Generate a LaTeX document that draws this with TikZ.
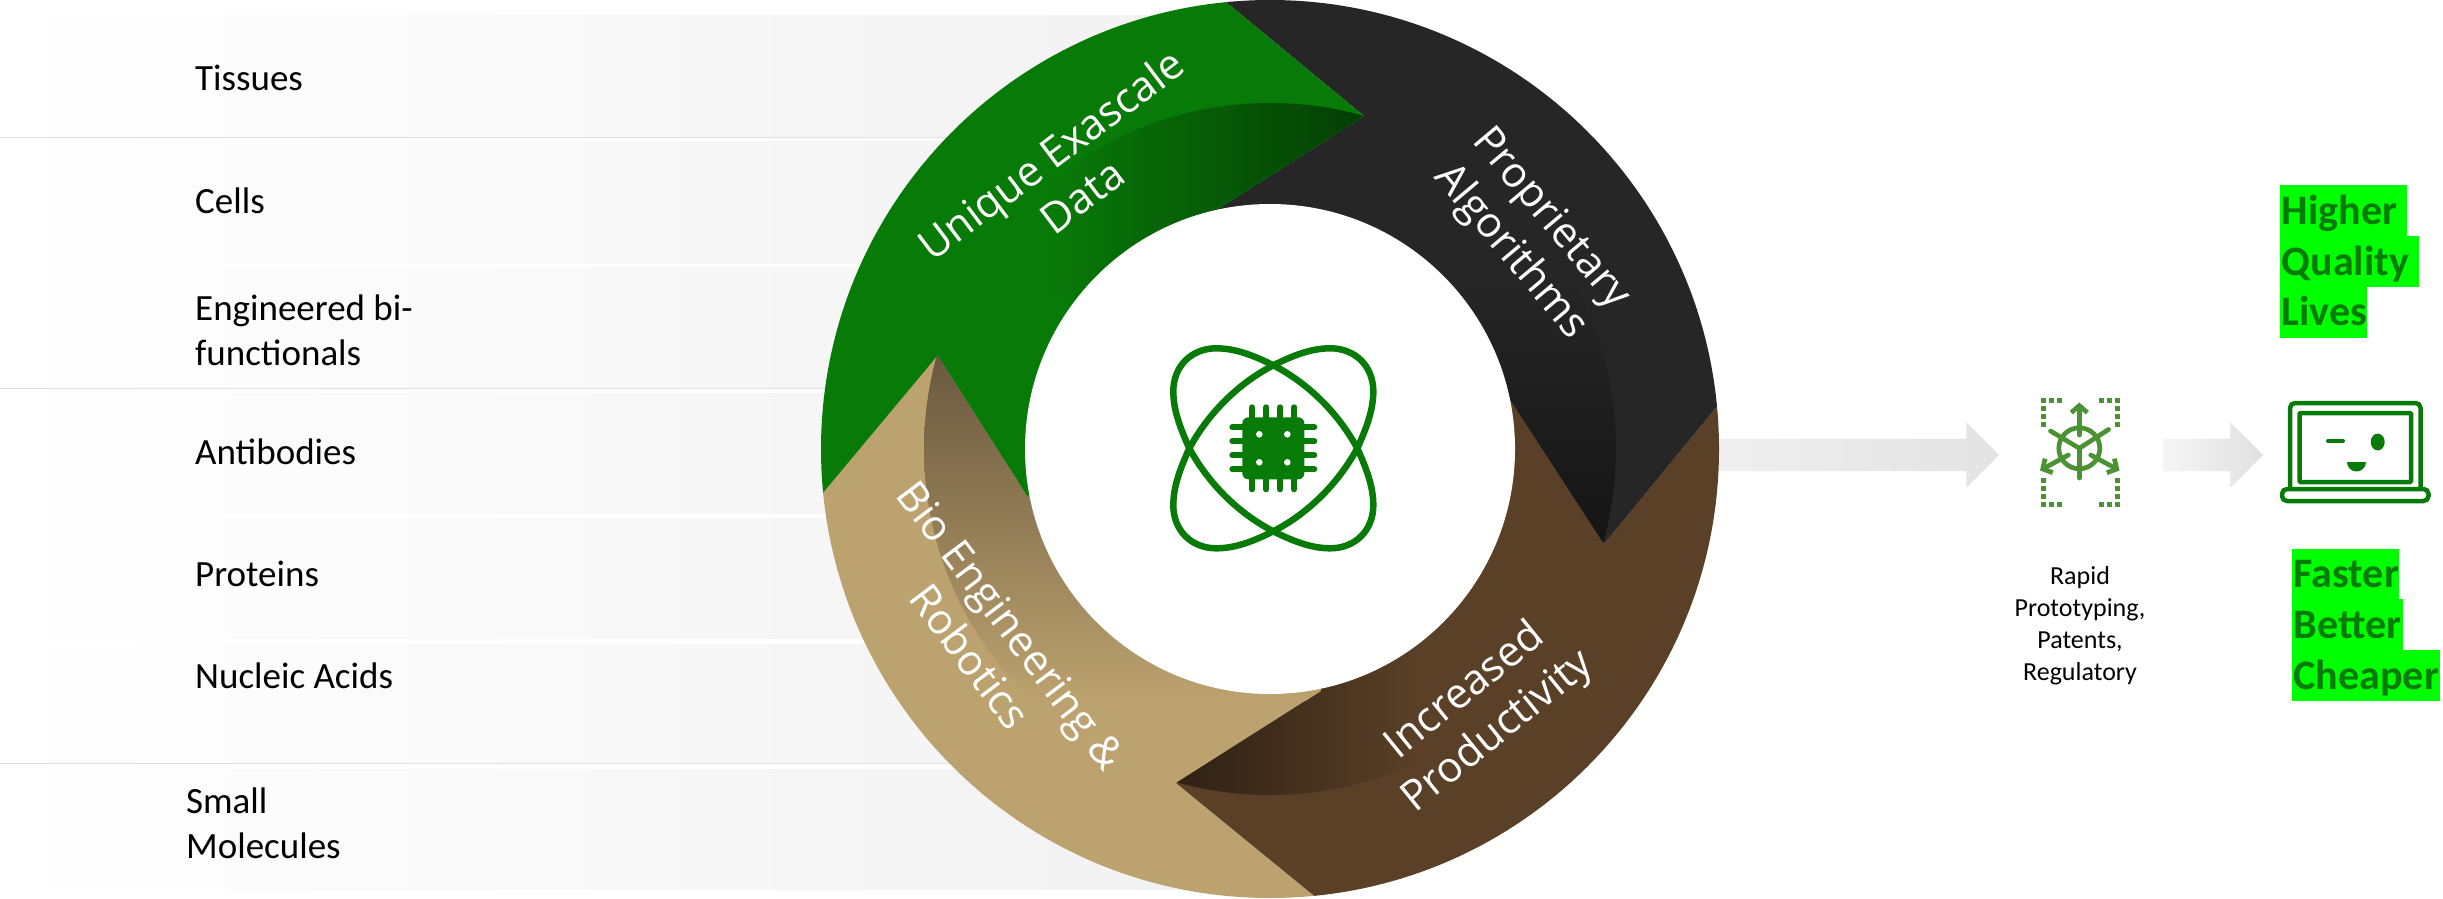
\documentclass[tikz,border=0pt]{standalone}
\usepackage{fontspec}
\setmainfont{Carlito}
\newfontfamily\ringfont{Open Sans}
\usepackage{xcolor}
\usetikzlibrary{shapes,arrows,arrows.meta,positioning,calc}

\definecolor{ringgreen}{HTML}{087A08}
\definecolor{ringblack}{HTML}{262626}
\definecolor{ringbrown}{HTML}{5A4027}
\definecolor{ringtan}{HTML}{BCA26E}
\definecolor{tanshadow}{HTML}{69583F}
\definecolor{iconleaf}{HTML}{4A9232}
\definecolor{hilite}{HTML}{00FF00}

\begin{document}
\begin{tikzpicture}[x=1pt, y=-1pt,
    striprow/.style={left color=white, right color=black!5.5},
    rowlabel/.style={anchor=west, align=left, inner sep=0pt, font=\fontsize{37}{45}\selectfont},
    ringlabel/.style={text=white, align=center, inner sep=0pt, font=\ringfont\fontsize{42}{52}\selectfont},
    blockarrow/.style={single arrow, single arrow head extend=16.5pt, inner sep=0pt},
    hilitebox/.style={fill=hilite, text=ringgreen, inner xsep=1.5pt, inner ysep=0pt, minimum height=51pt, anchor=west, align=left,
        font=\bfseries\fontsize{42}{51}\selectfont, execute at begin node={\rule[-12pt]{0pt}{51pt}}},
    iconarrow/.style={-{Straight Barb[length=7pt,width=16pt]}}]

    \useasboundingbox (0,0) rectangle (2443,899);

    % rows behind the ring
    \foreach \top/\bot in {16/137, 141/263, 267/388, 393/513, 518/638, 644/763, 769/889}
        \shade[striprow] (0,\top) rectangle (1270,\bot);
    \foreach \y in {137, 388, 763}
        \draw[black!12, line width=1pt] (0,\y) -- (1270,\y);

    \node[rowlabel] (tissues) at (195,78) {Tissues};
    \node[rowlabel] (cells) at (195,201) {Cells};
    \node[rowlabel] (engineered) at (195,330) {Engineered bi-\\functionals};
    \node[rowlabel] (antibodies) at (195,452) {Antibodies};
    \node[rowlabel] (proteins) at (195,574) {Proteins};
    \node[rowlabel] (nucleic) at (195,676) {Nucleic Acids};
    \node[rowlabel] (small) at (186,823) {Small\\Molecules};

    % block arrows
    \node[blockarrow, minimum height=299pt, left color=black!6, right color=black!11] (flowa) at (1841.5,455) {\rule{0pt}{32pt}};
    \node[blockarrow, minimum height=100pt, left color=black!4, right color=black!12] (flowb) at (2205,455) {\rule{0pt}{32pt}};

    % ring
    \coordinate (hub) at (1270,449);
    \def\greenseg{(767,560) -- (937.6,355.5) -- (1027,496) -- (hub) -- (1218,209) -- (1364,116) -- (1158,-54) -- (700,-54) -- (700,560) -- cycle}
    \def\blackseg{(1158,-54) -- (1364,116) -- (1218,209) -- (hub) -- (1509,398) -- (1604,544) -- (1774,337) -- (1800,337) -- (1800,-54) -- cycle}
    \def\brownseg{(1774,337) -- (1604,544) -- (1509,398) -- (hub) -- (1321,691) -- (1176,783) -- (1383,952) -- (1800,952) -- (1800,337) -- cycle}
    \def\tanseg{(1383,952) -- (1176,783) -- (1321,691) -- (hub) -- (1027,496) -- (937.6,355.5) -- (767,560) -- (700,560) -- (700,952) -- cycle}

    \begin{scope}
        \clip (hub) circle[radius=449];
        \fill[ringtan] \tanseg;
        \fill[ringbrown] \brownseg;
        \fill[ringblack] \blackseg;
        \fill[ringgreen] \greenseg;
        \begin{scope}
            \clip \greenseg;
            \clip (hub) circle[radius=346];
            \shade[left color=ringgreen, right color=ringgreen!50!black] (1050,90) rectangle (1370,300);
        \end{scope}
        \begin{scope}
            \clip \blackseg;
            \clip (hub) circle[radius=346];
            \shade[top color=ringblack, bottom color=black!92] (1400,280) rectangle (1640,548);
        \end{scope}
        \begin{scope}
            \clip \brownseg;
            \clip (hub) circle[radius=346];
            \shade[left color=ringbrown!50!black, right color=ringbrown] (1172,640) rectangle (1420,810);
        \end{scope}
        \begin{scope}
            \clip \tanseg;
            \clip (hub) circle[radius=346];
            \shade[top color=tanshadow, bottom color=ringtan] (900,352) rectangle (1400,700);
        \end{scope}
    \end{scope}
    \fill[white] (hub) circle[radius=245];

    \node[ringlabel, rotate=37] (exascale) at (1066,175) {Unique Exascale\\Data};
    \node[ringlabel, rotate=-50] (algorithms) at (1530,236) {Proprietary\\Algorithms};
    \node[ringlabel, rotate=39] (productivity) at (1482,712) {Increased\\Productivity};
    \node[ringlabel, rotate=-53] (robotics) at (991,641) {Bio Engineering \&\\Robotics};

    % atom and chip
    \def\orbit{(0,-83) .. controls (-20,-93) and (-38,-100) .. (-57,-100) .. controls (-82,-100) and (-100,-82) .. (-100,-57)
        .. controls (-100,-38) and (-93,-20) .. (-84,0) .. controls (-65,35) and (-35,65) .. (0,83)
        .. controls (20,93) and (38,100) .. (57,100) .. controls (82,100) and (100,82) .. (100,57)
        .. controls (100,38) and (93,20) .. (84,0) .. controls (65,-35) and (35,-65) .. (0,-83) -- cycle}
    \begin{scope}[shift={(1273.3,448.3)}]
        \draw[ringgreen, line width=6.5pt] \orbit;
        \draw[ringgreen, line width=6.5pt, xscale=-1] \orbit;
        \fill[ringgreen, rounded corners=6pt] (-31,-31) rectangle (31,31);
        \foreach \d in {-21,-7,7,21} {
            \draw[ringgreen, line width=6pt, line cap=round] (\d,-28) -- (\d,-41);
            \draw[ringgreen, line width=6pt, line cap=round] (\d,28) -- (\d,41);
            \draw[ringgreen, line width=6pt, line cap=round] (-28,\d) -- (-41,\d);
            \draw[ringgreen, line width=6pt, line cap=round] (28,\d) -- (41,\d);
        }
        \foreach \dx in {-14,14}
            \foreach \dy in {-14,14}
                \fill[white] (\dx,\dy) circle[radius=3.3];
    \end{scope}

    % prototype icon
    \foreach \sx/\sy in {1/1, -1/1, 1/-1, -1/-1}
        \foreach \dx/\dy in {21/52, 29/52, 37/52, 37/44, 37/36, 37/28}
            \fill[iconleaf] ({2080.3+\sx*\dx-2.7},{452.3+\sy*\dy-2.7}) rectangle ++(5.4,5.4);
    \begin{scope}[iconleaf, line width=4.7pt, line cap=round]
        \draw (2079.3,448.3) circle[radius=20.5];
        \draw (2079.3,448.3) -- (2050.5,431);
        \draw (2079.3,448.3) -- (2108.5,429.5);
        \draw (2079.3,448.3) -- (2079.3,478);
        \draw[iconarrow] (2079.3,435) -- (2079.3,402.5);
        \draw[iconarrow] (2068.3,455) -- (2040,470.5);
        \draw[iconarrow] (2090.7,455) -- (2119.5,470.5);
    \end{scope}
    \node[align=center, inner sep=0pt, font=\fontsize{26}{32}\selectfont] (rapid) at (2080,626) {Rapid\\Prototyping,\\Patents,\\Regulatory};

    % laptop
    \begin{scope}[ringgreen, line width=4.5pt]
        \draw[rounded corners=5pt] (2290,488) -- (2290,403) -- (2420.5,403) -- (2420.5,488);
        \draw[rounded corners=1pt] (2299.5,413) rectangle (2411,482);
        \draw[rounded corners=5pt] (2282,489) rectangle (2428.5,501);
        \draw[line width=4pt, line cap=round] (2328,441) -- (2343,441);
        \fill (2377.7,442) ellipse[x radius=7, y radius=8.4];
        \fill (2366,462) arc[start angle=0, end angle=180, radius=9.5] -- cycle;
    \end{scope}

    % highlighted words
    \node[hilitebox, text width=124pt] (higher) at (2280,210.5) {Higher};
    \node[hilitebox, text width=136pt] (quality) at (2280,261.5) {Quality};
    \node[hilitebox, text width=84pt] (lives) at (2280,312) {Lives};
    \node[hilitebox, text width=104pt] (faster) at (2292,574) {Faster};
    \node[hilitebox, text width=108pt] (better) at (2292,624.5) {Better};
    \node[hilitebox, text width=145pt] (cheaper) at (2292,675.5) {Cheaper};
\end{tikzpicture}
\end{document}
